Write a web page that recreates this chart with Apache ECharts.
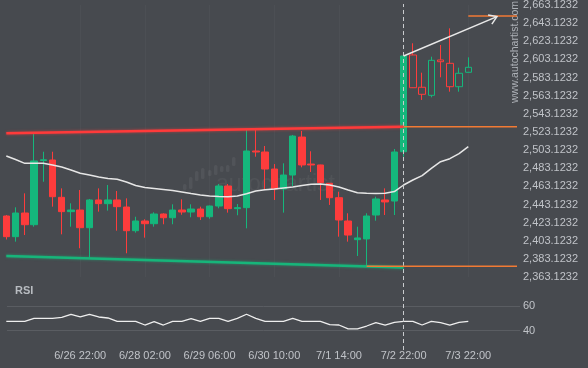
<!DOCTYPE html>
<html><head><meta charset="utf-8">
<script src="https://cdn.jsdelivr.net/npm/echarts@6/dist/echarts.min.js"></script>
<style>html,body{margin:0;padding:0;background:#474a4f;}#c{width:588px;height:368px;}</style>
</head><body><div id="c"></div>
<script>
// ---- data ----
// candles: [open, close, low, high], one per 4h bar (index = position on the x axis)
const ohlc = [
 [2430.4,2407.6,2404.5,2431.5],[2407.6,2433.7,2402.1,2440.0],[2433.7,2420.8,2409.4,2455.4],[2420.8,2491.1,2418.6,2521.6],
 [2491.6,2492.4,2468.2,2501.3],[2492.2,2451.7,2440.7,2501.3],[2451.0,2435.2,2410.2,2460.9],[2435.2,2437.0,2418.6,2444.4],
 [2437.0,2417.5,2394.8,2459.1],[2417.5,2448.1,2383.7,2449.2],[2448.1,2444.0,2435.2,2460.9],[2444.0,2448.1,2436.3,2464.6],
 [2448.1,2440.7,2414.2,2458.0],[2440.3,2414.2,2389.3,2449.9],[2414.2,2424.9,2412.0,2429.6],[2424.9,2421.9,2406.5,2426.8],
 [2421.9,2432.6,2418.6,2434.5],[2432.6,2428.5,2421.3,2433.4],[2428.5,2437.0,2421.3,2443.3],[2437.0,2434.8,2431.8,2448.8],
 [2434.8,2438.1,2429.0,2443.3],[2438.1,2429.6,2426.0,2440.7],[2429.6,2441.4,2427.4,2441.9],[2441.4,2463.5,2438.9,2465.7],
 [2463.5,2438.5,2434.1,2465.7],[2438.5,2439.6,2431.2,2443.6],[2439.6,2502.1,2416.8,2525.2],[2502.1,2501.0,2495.8,2525.2],
 [2501.0,2482.2,2459.1,2507.6],[2482.2,2460.2,2448.1,2487.7],[2460.2,2475.6,2434.1,2488.5],[2475.6,2518.6,2463.5,2519.8],
 [2517.5,2486.7,2484.1,2524.2],[2487.7,2486.7,2478.9,2501.8],[2486.7,2467.1,2448.1,2487.0],[2466.5,2450.6,2442.6,2466.8],
 [2450.6,2426.0,2407.6,2457.2],[2424.9,2409.4,2402.1,2433.4],[2404.3,2406.2,2386.3,2418.6],[2405.1,2430.4,2374.9,2433.4],
 [2431.5,2449.2,2425.2,2451.7],[2448.1,2445.9,2431.5,2460.9],[2446.9,2501.0,2431.5,2504.3],[2501.3,2606.9,2495.8,2607.2],
 [2608.0,2571.9,2571.6,2620.9],[2572.4,2564.6,2558.4,2588.5],[2563.5,2602.1,2561.3,2606.1],[2602.5,2600.6,2583.4,2619.0],
 [2598.8,2573.0,2567.5,2637.4],[2573.0,2587.8,2567.5,2594.0],[2588.9,2594.4,2588.6,2605.4]
];
const hollowFrom = 44; // bars after the breakout are drawn as outlines
const maValues = [2496.6,2492.7,2488.5,2488.5,2488.5,2486.7,2484.4,2481.1,2477.5,2475.6,2473.4,2471.8,2470.9,2467.9,2464.1,
 2461.8,2460.7,2459.6,2458.5,2456.9,2455.2,2453.6,2452.5,2451.9,2451.7,2452.5,2455.0,2458.0,2459.4,2460.2,2461.3,2462.4,
 2464.1,2465.4,2465.7,2464.6,2462.4,2459.1,2456.1,2455.4,2455.2,2455.4,2457.4,2464.6,2470.1,2475.0,2483.0,2490.3,2493.6,
 2499.1,2506.9];
const rsiValues = [47.6,47.6,47.6,50.0,50.0,50.0,50.8,53.3,51.1,53.3,51.1,50.3,47.6,47.6,47.6,44.6,47.3,44.6,47.6,47.6,
 49.7,47.6,50.0,50.0,47.6,50.0,53.3,50.0,47.6,47.6,47.6,50.0,47.6,47.6,47.6,44.9,44.6,41.4,41.4,43.8,46.5,44.6,46.8,
 47.6,47.6,44.6,47.6,46.5,44.6,46.8,47.6];
const tickIndex = [8,15,22,29,36,43,50];
const tickLabels = ['6/26 22:00','6/28 02:00','6/29 06:00','6/30 10:00','7/1 14:00','7/2 22:00','7/3 22:00'];
const priceMin = 2363.1232, priceMax = 2663.1232, priceStep = 20;
const rsiMin = 40, rsiMax = 60, rsiStep = 20;
const resistance = [[0,2521.6],[43,2528.9]];
const support = [[0,2386.3],[43,2373.6]];
const breakoutLevel = [[43,2528.9],[60,2528.9]];
const lowLevel = [[39,2374.9],[60,2374.9]];
const targetLevel = [[50,2651.0],[60,2651.0]];
const projection = [[43,2606.9,53.1,2650.3]];
const breakoutIndex = 43;
const pointA = [[39,2374.9]];

// ---- layout ----
const PX = 9.24, GL = 7, X0 = 6.3;
const xMin = (GL - X0) / PX;
const xMaxMain = xMin + 508 / PX;
const xMaxRsi = xMin + 513 / PX;
const FONT = '"Liberation Sans", Arial, sans-serif';
const TXT = '#c0c3c8';
const UP = '#15b77c', DOWN = '#fd3c3c', ORANGE = '#f27a34';

function fmtPrice(v){
  const snapped = priceMin + Math.round((v - priceMin) / priceStep) * priceStep;
  const s = snapped.toFixed(4); const parts = s.split('.');
  return parts[0].replace(/\B(?=(\d{3})+(?!\d))/g, ',') + '.' + parts[1];
}

const candleData = ohlc.map((d,i) => {
  const item = {value:[i, d[0], d[1], d[2], d[3]]};
  if (i >= hollowFrom) item.itemStyle = {color:'transparent', color0:'transparent'};
  return item;
});

const chart = echarts.init(document.getElementById('c'), null, {renderer:'canvas'});
chart.setOption({
  backgroundColor:'#474a4f',
  animation:false,
  grid:[
    {left:GL, top:5, width:508, height:272, outerBoundsMode:'none'},
    {left:GL, top:306, width:513, height:24.7, outerBoundsMode:'none'},
    {left:GL, top:4, width:508, height:346, outerBoundsMode:'none'}
  ],
  xAxis:[
    {gridIndex:0, type:'value', min:xMin, max:xMaxMain, axisLine:{show:false},
     axisTick:{show:false, customValues:tickIndex}, axisLabel:{show:false},
     splitLine:{show:true, lineStyle:{color:'rgba(255,255,255,0.03)', width:1}}},
    {gridIndex:1, type:'value', min:xMin, max:xMaxRsi, axisLine:{show:false},
     axisTick:{show:false, customValues:tickIndex}, splitLine:{show:false},
     axisLabel:{customValues:tickIndex, margin:20, color:TXT, fontSize:11, fontFamily:FONT,
       formatter:v => tickLabels[tickIndex.indexOf(Math.round(v))] || ''}},
    {gridIndex:2, type:'value', min:xMin, max:xMaxMain, show:false}
  ],
  yAxis:[
    {gridIndex:0, type:'value', position:'right', min:priceMin, max:priceMax, interval:priceStep,
     axisLine:{show:false}, axisTick:{show:false}, splitLine:{show:false},
     axisLabel:{margin:8, color:TXT, fontSize:11, fontFamily:FONT, formatter:fmtPrice}},
    {gridIndex:1, type:'value', position:'right', min:rsiMin, max:rsiMax, interval:rsiStep,
     axisLine:{show:false}, axisTick:{show:false},
     splitLine:{show:true, lineStyle:{color:'#5a5d62', width:1}},
     axisLabel:{margin:3, color:TXT, fontSize:11, fontFamily:FONT}},
    {gridIndex:2, type:'value', min:0, max:1, show:false}
  ],
  series:[
    {type:'line', xAxisIndex:2, yAxisIndex:2, data:[[breakoutIndex,0.5]], showSymbol:false, symbol:'none',
     lineStyle:{opacity:0}, z:1, silent:true,
     markLine:{silent:true, symbol:['none','none'], label:{show:false},
       lineStyle:{color:'#c9cbce', width:1, type:[4,3]}, data:[{xAxis:breakoutIndex}]}},
    {type:'candlestick', xAxisIndex:0, yAxisIndex:0, data:candleData, barWidth:7, z:3,
     encode:{x:0, y:[1,2,3,4]},
     itemStyle:{color:UP, color0:DOWN, borderColor:UP, borderColor0:DOWN, borderWidth:1}},
    {type:'line', xAxisIndex:0, yAxisIndex:0, data:maValues.map((v,i)=>[i,v]), symbol:'none', z:4,
     lineStyle:{color:'#e6e6e6', width:1.5}},
    {type:'line', xAxisIndex:0, yAxisIndex:0, data:resistance, symbol:'none', z:5,
     lineStyle:{color:'#ff3a3a', width:2.5, shadowBlur:3, shadowColor:'rgba(255,60,60,0.6)'}},
    {type:'line', xAxisIndex:0, yAxisIndex:0, data:support, symbol:'none', z:5,
     lineStyle:{color:'#17b57a', width:2.5, shadowBlur:3, shadowColor:'rgba(23,181,122,0.6)'}},
    {type:'line', xAxisIndex:0, yAxisIndex:0, data:breakoutLevel, symbol:'none', z:5,
     lineStyle:{color:ORANGE, width:1.5}},
    {type:'line', xAxisIndex:0, yAxisIndex:0, data:lowLevel, symbol:'none', z:6,
     lineStyle:{color:ORANGE, width:1.5}},
    {type:'line', xAxisIndex:0, yAxisIndex:0, data:targetLevel, symbol:'none', z:5,
     lineStyle:{color:ORANGE, width:1.5}},
    {type:'custom', xAxisIndex:0, yAxisIndex:0, data:projection, z:6, encode:{x:[0,2], y:[1,3]},
     renderItem:(params, api) => {
       const p0 = api.coord([api.value(0), api.value(1)]);
       const p1 = api.coord([api.value(2), api.value(3)]);
       const ang = Math.atan2(p1[1]-p0[1], p1[0]-p0[0]);
       const L = 9, a = Math.PI/5.5;
       const h1 = [p1[0]-L*Math.cos(ang-a), p1[1]-L*Math.sin(ang-a)];
       const h2 = [p1[0]-L*Math.cos(ang+a), p1[1]-L*Math.sin(ang+a)];
       return {type:'group', children:[
         {type:'line', shape:{x1:p0[0], y1:p0[1], x2:p1[0], y2:p1[1]}, style:{stroke:'#e8e8e8', lineWidth:1.5}},
         {type:'polyline', shape:{points:[h1,p1,h2]}, style:{stroke:'#e8e8e8', lineWidth:1.5, fill:null}}
       ]};
     }},
    {type:'scatter', xAxisIndex:0, yAxisIndex:0, data:pointA, symbolSize:1, itemStyle:{opacity:0}, z:7,
     label:{show:true, formatter:'A', position:'bottom', distance:1, offset:[3,0], color:ORANGE, fontSize:11, fontFamily:FONT}},
    {type:'line', xAxisIndex:1, yAxisIndex:1, data:rsiValues.map((v,i)=>[i,v]), symbol:'none',
     lineStyle:{color:'#eeeeee', width:1.3}}
  ],
  graphic:[
    {type:'text', left:15, top:285, style:{text:'RSI', fill:'#b8bcc1', font:'bold 11px '+FONT}},
    {type:'text', x:515.5, y:103, rotation:Math.PI/2,
     style:{text:'www.autochartist.com', fill:'#aeb2b8', font:'10.5px '+FONT, textAlign:'left', textVerticalAlign:'middle'}},
    {type:'text', x:216, y:185, style:{text:'autochartist', fill:'rgba(255,255,255,0.05)', font:'23px '+FONT, textVerticalAlign:'middle'}},
    {type:'group', children:[
      {type:'rect', shape:{x:183,y:184,width:3.5,height:6,r:1.5}, style:{fill:'rgba(255,255,255,0.06)'}},
      {type:'rect', shape:{x:189,y:177,width:3.5,height:12,r:1.5}, style:{fill:'rgba(255,255,255,0.06)'}},
      {type:'rect', shape:{x:195,y:171,width:3.5,height:10,r:1.5}, style:{fill:'rgba(255,255,255,0.06)'}},
      {type:'rect', shape:{x:201,y:168,width:3.5,height:11,r:1.5}, style:{fill:'rgba(255,255,255,0.06)'}},
      {type:'rect', shape:{x:208,y:170,width:3.5,height:6,r:1.5}, style:{fill:'rgba(255,255,255,0.06)'}},
      {type:'rect', shape:{x:214,y:165,width:3.5,height:10,r:1.5}, style:{fill:'rgba(255,255,255,0.06)'}},
      {type:'rect', shape:{x:220,y:166,width:3.5,height:6,r:1.5}, style:{fill:'rgba(255,255,255,0.06)'}},
      {type:'rect', shape:{x:226,y:165,width:3.5,height:7,r:1.5}, style:{fill:'rgba(255,255,255,0.06)'}},
      {type:'rect', shape:{x:232,y:157,width:3.5,height:9,r:1.5}, style:{fill:'rgba(255,255,255,0.06)'}}
    ]}
  ]
});
</script></body></html>
